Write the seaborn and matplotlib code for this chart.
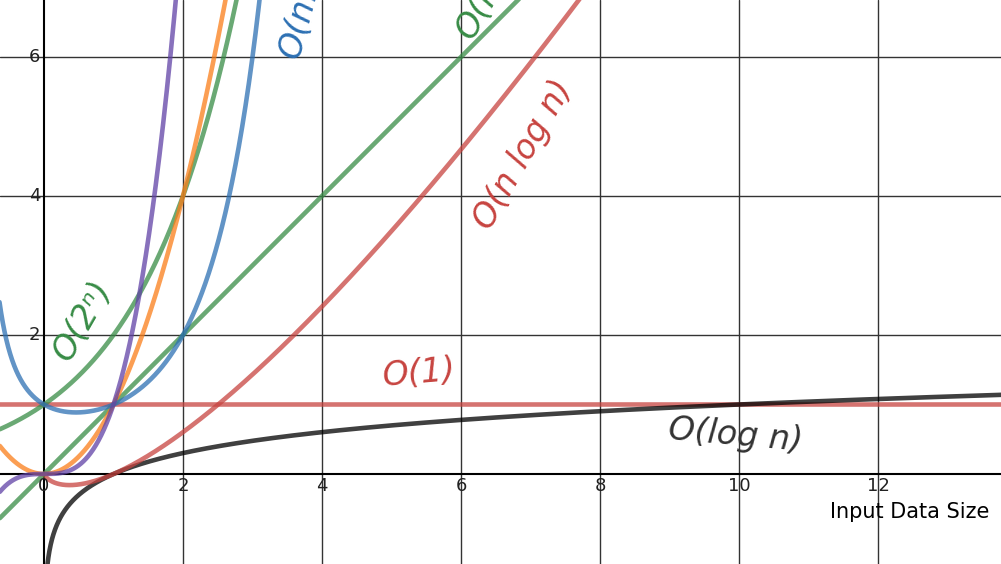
import numpy as np
import pandas as pd
import matplotlib
matplotlib.use("Agg")
import matplotlib.pyplot as plt
import seaborn as sns
from math import gamma

sns.set_theme(style="white")
plt.rcParams['font.family'] = ['DejaVu Sans']

names = ["O(1)", "O(log n)", "O(n log n)", "O(n)", "O(2^n)", "O(n^2)", "O(n!)", "O(n^3)"]
colors = ["#c74440", "#000000", "#c74440", "#388c46", "#388c46", "#fa7e19", "#2d70b3", "#6042a6"]
xticks = [0, 2, 4, 6, 8, 10, 12]
yticks = [2, 4, 6]

x = np.linspace(-0.64, 13.8, 3000)
xp = x[x > 0.001]
def fac(v):
    return np.array([gamma(t + 1) for t in v])
curves = {
    "O(1)": (x, np.ones_like(x)),
    "O(log n)": (xp, np.log10(xp)),
    "O(n log n)": (xp, xp * np.log10(xp)),
    "O(n)": (x, x),
    "O(2^n)": (x, 2.0 ** x),
    "O(n^2)": (x, x ** 2),
    "O(n!)": (x[x < 3.2], fac(x[x < 3.2])),
    "O(n^3)": (x, x ** 3),
}

fig = plt.figure(figsize=(10.01, 5.64), dpi=100)
ax = fig.add_axes([0, 0, 1, 1])
for n, c in zip(names, colors):
    xx, yy = curves[n]
    df = pd.DataFrame({"x": xx, "y": yy})
    sns.lineplot(data=df, x="x", y="y", ax=ax, color=c, lw=3.3,
                 alpha=0.75, sort=False, estimator=None)

ax.set_xlim(-0.633, 13.77)
ax.set_ylim(-1.295, 6.82)
for t in np.arange(2, 14, 2):
    ax.axvline(t, color="#333333", lw=1, zorder=0)
for t in [2, 4, 6]:
    ax.axhline(t, color="#333333", lw=1, zorder=0)
ax.axvline(0, color="black", lw=1.5, zorder=0)
ax.axhline(0, color="black", lw=1.5, zorder=0)
ax.set_xticks([]); ax.set_yticks([])
ax.set_xlabel(""); ax.set_ylabel("")
for s in ax.spines.values():
    s.set_visible(False)
for t in xticks:
    ax.text(t, -0.05, str(t), ha="center", va="top", fontsize=13, color="#222")
for t in yticks:
    ax.text(-0.05, t, str(t), ha="right", va="center", fontsize=13, color="#222")
ax.text(13.6, -0.55, "Input Data Size", ha="right", va="center", fontsize=15, color="black")

lab = dict(fontsize=24, fontstyle="italic")
ax.text(5.4, 1.45, "O(1)", color="#c74440", ha="center", va="center", rotation=5, **lab)
ax.text(9.95, 0.55, "O(log n)", color="#333", ha="center", va="center", rotation=-5, **lab)
ax.text(6.9, 4.6, "O(n log n)", color="#c74440", ha="center", va="center", rotation=60, **lab)
ax.text(0.55, 2.2, "O(2ⁿ)", color="#388c46", ha="center", va="center", rotation=60, **lab)
ax.text(3.7, 6.6, "O(n!)", color="#2d70b3", ha="center", va="center", rotation=75, **lab)
ax.text(6.3, 6.75, "O(n)", color="#388c46", ha="center", va="center", rotation=60, **lab)

fig.savefig("out.png", dpi=100)
